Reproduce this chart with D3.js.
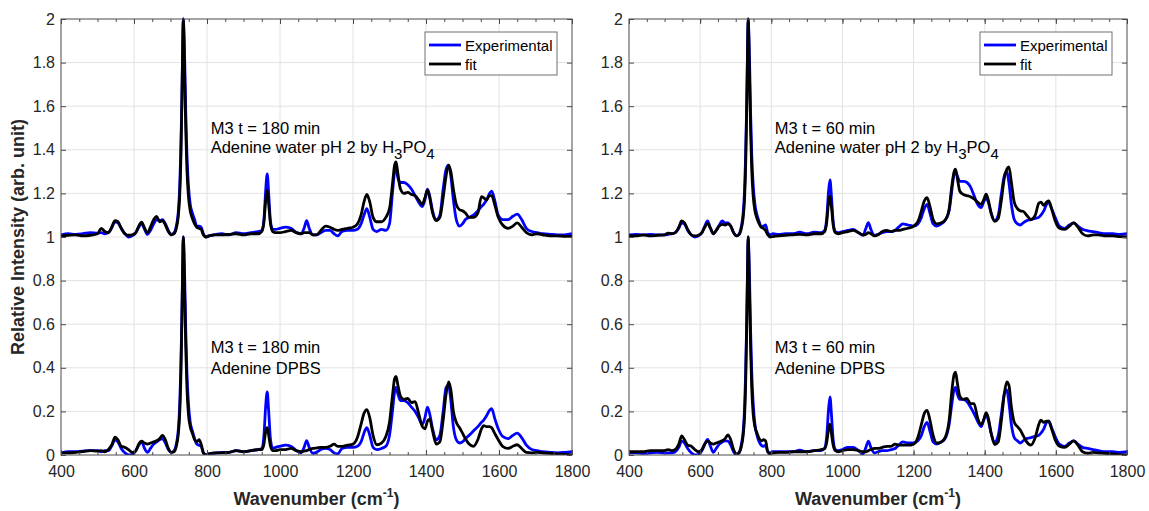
<!DOCTYPE html>
<html>
<head>
<meta charset="utf-8">
<script src="https://cdn.jsdelivr.net/npm/d3@7"></script>
<style>
  body { margin: 0; background: #fff; }
  text { font-family: "Liberation Sans", Arial, Helvetica, sans-serif; }
</style>
</head>
<body>
<svg id="chart" width="1149" height="511"></svg>
<script>
// Raman shift axis shared by every spectrum (cm^-1), denser around the sharp bands
const wavenumbers = [400,420,440,460,480,500,510,520,530,540,
  548,556,565,575,585,595,605,613,621,629,637,645,654,662,670,678,686,694,702,710,
  716,721,725,728,731,733,735,737,739,742,745,749,754,760,766,772,778,784,790,797,805,
  820,840,860,880,900,920,940,950,956,961,965,969,974,980,988,1000,1015,1030,1045,1058,1066,1073,1080,1090,1100,
  1112,1125,1137,1148,1158,1170,1185,1200,1212,1222,1230,1238,1246,1255,1265,1278,1290,1300,
  1308,1314,1318,1323,1330,1340,1350,1360,1370,1380,1390,1397,1404,1410,1418,1428,1438,1447,1455,1462,1468,1475,1483,1492,1500,
  1508,1518,1530,1542,1552,1558,1566,1574,1580,1588,1598,1610,1625,1638,1650,1662,1675,1690,1705,1720,1740,1760,1780,1800];

// Normalised intensities (735 cm^-1 band = 1)
// M3, t = 180 min, adenine in water pH 2 (H3PO4)
const water180Exp = [.010,.015,.012,.015,.020,.018,.020,.015,.020,.045,
  .070,.065,.040,.015,.000,.005,.020,.045,.060,.035,.012,.030,.060,.080,.075,.080,.060,.030,.012,.020,
  .050,.110,.220,.380,.620,.820,1.000,.930,.800,.560,.380,.240,.150,.110,.080,.050,.050,.045,.015,.000,.005,
  .010,.015,.010,.020,.015,.020,.025,.030,.080,.220,.290,.200,.070,.035,.035,.040,.045,.040,.020,.015,.040,.075,.040,.010,.010,
  .020,.030,.030,.015,.005,.025,.030,.030,.035,.060,.100,.130,.090,.035,.025,.035,.030,.060,
  .200,.300,.320,.270,.250,.250,.240,.220,.190,.160,.140,.170,.220,.190,.120,.080,.100,.220,.310,.330,.280,.170,.080,.050,.060,
  .080,.090,.100,.120,.140,.150,.170,.200,.210,.170,.100,.080,.080,.095,.105,.080,.040,.025,.020,.015,.012,.010,.010,.015];
const water180Fit = [.005,.008,.010,.005,.008,.015,.040,.025,.020,.050,
  .075,.070,.040,.015,.008,.010,.020,.050,.068,.040,.020,.045,.080,.095,.070,.075,.055,.025,.010,.015,
  .040,.090,.180,.330,.600,.830,1.000,.900,.720,.480,.310,.190,.120,.085,.060,.045,.040,.035,.010,.000,.005,
  .010,.010,.012,.015,.010,.015,.015,.025,.070,.170,.215,.150,.060,.025,.020,.020,.025,.030,.020,.015,.020,.020,.020,.010,.010,
  .030,.050,.045,.035,.030,.035,.040,.045,.060,.100,.160,.195,.160,.090,.070,.070,.090,.130,
  .240,.330,.345,.290,.220,.200,.205,.195,.190,.170,.150,.180,.215,.180,.110,.075,.090,.180,.280,.330,.300,.220,.150,.125,.120,
  .110,.090,.090,.110,.185,.180,.170,.190,.190,.150,.090,.055,.040,.050,.065,.045,.020,.010,.015,.010,.005,.005,.003,.003];
// M3, t = 180 min, adenine in DPBS
const dpbs180Exp = [.010,.015,.015,.018,.020,.020,.015,.020,.020,.045,
  .070,.060,.030,.010,.000,.002,.020,.045,.060,.030,.012,.030,.050,.060,.070,.075,.055,.025,.012,.020,
  .050,.110,.220,.380,.620,.820,1.000,.930,.800,.560,.380,.240,.150,.110,.075,.050,.045,.040,.010,.000,.005,
  .008,.012,.012,.020,.015,.020,.025,.030,.090,.230,.290,.200,.070,.030,.035,.040,.045,.040,.020,.010,.035,.066,.035,.008,.012,
  .025,.030,.025,.010,.005,.030,.035,.035,.040,.060,.100,.126,.090,.035,.025,.030,.040,.090,
  .200,.290,.310,.280,.250,.250,.240,.220,.200,.170,.140,.170,.220,.190,.120,.070,.090,.200,.310,.320,.250,.130,.070,.055,.060,
  .075,.090,.110,.130,.150,.160,.180,.205,.213,.170,.120,.085,.075,.090,.100,.080,.045,.025,.020,.015,.012,.010,.012,.015];
const dpbs180Fit = [.010,.010,.012,.015,.020,.018,.020,.015,.025,.050,
  .082,.070,.040,.035,.025,.012,.020,.050,.063,.055,.050,.055,.060,.065,.075,.090,.070,.030,.012,.015,
  .040,.090,.180,.330,.600,.830,1.000,.900,.720,.480,.310,.190,.130,.100,.070,.060,.070,.050,.010,.000,.005,
  .010,.010,.012,.020,.015,.020,.025,.025,.050,.110,.126,.090,.040,.020,.020,.025,.025,.030,.020,.015,.018,.020,.025,.030,.032,
  .035,.035,.040,.050,.040,.040,.045,.050,.080,.140,.190,.208,.170,.090,.047,.055,.085,.150,
  .270,.350,.360,.320,.270,.255,.260,.240,.245,.190,.130,.120,.155,.165,.110,.050,.060,.160,.280,.335,.300,.200,.150,.125,.100,
  .075,.050,.040,.070,.120,.135,.130,.130,.125,.100,.070,.040,.030,.040,.047,.030,.012,.010,.012,.010,.008,.005,.003,.000];
// M3, t = 60 min, adenine in water pH 2 (H3PO4)
const water60Exp = [.010,.012,.010,.012,.010,.010,.012,.015,.020,.040,
  .065,.060,.030,.010,.000,.005,.020,.050,.074,.040,.015,.030,.055,.074,.065,.065,.050,.020,.005,.015,
  .050,.110,.220,.380,.620,.820,1.000,.930,.800,.560,.380,.240,.150,.100,.070,.045,.050,.055,.020,.010,.015,
  .012,.015,.015,.022,.015,.022,.020,.030,.090,.210,.262,.190,.070,.025,.020,.025,.030,.035,.020,.008,.040,.066,.035,.008,.012,
  .020,.025,.025,.030,.045,.060,.055,.050,.060,.090,.130,.150,.110,.060,.050,.060,.080,.120,
  .220,.290,.300,.280,.255,.255,.250,.230,.190,.150,.135,.160,.180,.160,.110,.075,.100,.200,.280,.300,.250,.150,.080,.060,.055,
  .065,.075,.080,.085,.090,.100,.120,.150,.158,.130,.090,.050,.040,.055,.065,.050,.035,.028,.025,.020,.015,.015,.012,.015];
const water60Fit = [.005,.005,.010,.005,.008,.010,.018,.015,.020,.045,
  .074,.065,.035,.010,.005,.008,.020,.045,.061,.040,.015,.030,.050,.058,.055,.060,.050,.020,.005,.012,
  .040,.090,.180,.330,.600,.830,1.000,.900,.720,.480,.310,.190,.120,.085,.060,.045,.040,.030,.010,.000,.002,
  .005,.008,.010,.012,.010,.015,.015,.025,.070,.160,.189,.140,.055,.020,.015,.020,.025,.030,.020,.010,.012,.020,.015,.005,.010,
  .025,.030,.025,.030,.030,.035,.040,.050,.070,.120,.165,.181,.140,.080,.060,.065,.080,.130,
  .240,.300,.311,.270,.210,.195,.190,.185,.175,.160,.150,.170,.196,.170,.110,.072,.085,.170,.270,.310,.322,.250,.160,.130,.120,
  .118,.100,.080,.100,.155,.160,.145,.160,.166,.130,.075,.040,.035,.050,.065,.045,.015,.005,.010,.010,.005,.005,.002,.000];
// M3, t = 60 min, adenine in DPBS
const dpbs60Exp = [.010,.010,.008,.010,.012,.010,.010,.010,.015,.035,
  .064,.055,.030,.010,.000,.002,.020,.050,.072,.040,.012,.030,.050,.060,.065,.064,.045,.015,.002,.012,
  .050,.110,.220,.380,.620,.820,1.000,.930,.800,.560,.380,.240,.140,.090,.060,.045,.040,.045,.015,.010,.015,
  .015,.015,.015,.022,.015,.020,.020,.030,.090,.210,.267,.190,.070,.025,.020,.025,.035,.035,.020,.005,.035,.064,.035,.010,.015,
  .020,.020,.025,.030,.045,.060,.055,.055,.065,.090,.130,.150,.110,.060,.050,.060,.080,.140,
  .240,.300,.310,.280,.255,.255,.245,.220,.190,.155,.130,.160,.190,.160,.100,.060,.090,.190,.280,.300,.240,.140,.080,.065,.055,
  .065,.075,.080,.085,.090,.100,.120,.150,.155,.125,.085,.050,.040,.055,.065,.050,.035,.030,.025,.020,.015,.015,.012,.015];
const dpbs60Fit = [.015,.015,.015,.020,.020,.020,.025,.020,.025,.050,
  .088,.070,.045,.040,.025,.015,.025,.050,.064,.055,.050,.055,.060,.065,.075,.092,.070,.025,.005,.012,
  .040,.090,.180,.330,.600,.830,1.000,.900,.720,.480,.310,.190,.130,.100,.075,.065,.070,.065,.015,.005,.010,
  .012,.012,.015,.015,.015,.020,.025,.030,.060,.120,.142,.100,.045,.020,.015,.020,.025,.025,.020,.015,.015,.020,.025,.030,.030,
  .035,.040,.040,.050,.045,.045,.045,.050,.080,.140,.190,.205,.160,.090,.055,.060,.085,.160,
  .300,.370,.380,.330,.270,.255,.260,.235,.236,.170,.140,.160,.194,.170,.100,.048,.060,.160,.280,.335,.320,.220,.150,.130,.115,
  .090,.060,.045,.080,.140,.160,.150,.155,.155,.120,.070,.040,.035,.050,.065,.045,.015,.008,.012,.010,.008,.005,.002,.000];

const xTicks = [400, 600, 800, 1000, 1200, 1400, 1600, 1800];
const xMinorTicks = d3.range(450, 1800, 50);
const yTicks = [0, 0.2, 0.4, 0.6, 0.8, 1, 1.2, 1.4, 1.6, 1.8, 2];
const legendLabels = ["Experimental", "fit"];
const stackOffset = 1;   // upper spectrum is shifted up by one unit

const colors = { exp: "#0000ff", fit: "#000000" };
const axisColor = "#4a4a4a";
const textColor = "#262626";

const panels = [
  { left: 61, top: 19, width: 511, height: 436, yLabel: true,
    upper: { exp: water180Exp, fit: water180Fit, title: "M3 t = 180 min" },
    lower: { exp: dpbs180Exp, fit: dpbs180Fit, title: "M3 t = 180 min" } },
  { left: 629, top: 19, width: 498, height: 436, yLabel: false,
    upper: { exp: water60Exp, fit: water60Fit, title: "M3 t = 60 min" },
    lower: { exp: dpbs60Exp, fit: dpbs60Fit, title: "M3 t = 60 min" } }
];

const svg = d3.select("#chart");

panels.forEach((p, i) => {
  const g = svg.append("g").attr("transform", `translate(${p.left},${p.top})`);
  const x = d3.scaleLinear().domain([400, 1800]).range([0, p.width]);
  const y = d3.scaleLinear().domain([0, 2]).range([p.height, 0]);

  // grid
  g.append("g").selectAll("line").data(xTicks.slice(1, -1)).join("line")
    .attr("x1", d => x(d)).attr("x2", d => x(d)).attr("y1", 0).attr("y2", p.height)
    .attr("stroke", "#e2e2e2").attr("stroke-width", 1);
  g.append("g").selectAll("line").data(yTicks.slice(1, -1)).join("line")
    .attr("y1", d => y(d)).attr("y2", d => y(d)).attr("x1", 0).attr("x2", p.width)
    .attr("stroke", "#e2e2e2").attr("stroke-width", 1);

  // spectra
  const clipId = `clip${i}`;
  g.append("clipPath").attr("id", clipId).append("rect")
    .attr("x", 0).attr("y", -2).attr("width", p.width).attr("height", p.height + 2);
  const plot = g.append("g").attr("clip-path", `url(#${clipId})`);
  const series = [
    { values: p.upper.exp, offset: stackOffset, color: colors.exp },
    { values: p.upper.fit, offset: stackOffset, color: colors.fit },
    { values: p.lower.exp, offset: 0, color: colors.exp },
    { values: p.lower.fit, offset: 0, color: colors.fit }
  ];
  series.forEach(s => {
    const line = d3.line()
      .x((d, k) => x(wavenumbers[k]))
      .y(d => y(d + s.offset))
      .curve(d3.curveMonotoneX);
    plot.append("path").datum(s.values)
      .attr("d", line).attr("fill", "none")
      .attr("stroke", s.color).attr("stroke-width", 2.8)
      .attr("stroke-linejoin", "round");
  });

  // axes (ticks pointing inward, box on)
  const styleAxis = sel => {
    sel.select(".domain").remove();
    sel.selectAll("line").attr("stroke", axisColor);
    sel.selectAll("text").attr("fill", textColor).style("font-size", "16px");
  };
  g.append("g").attr("transform", `translate(0,${p.height})`)
    .call(d3.axisBottom(x).tickValues(xTicks).tickSize(-5).tickPadding(11).tickFormat(d3.format("d")))
    .call(styleAxis);
  g.append("g").attr("transform", `translate(0,${p.height})`)
    .call(d3.axisBottom(x).tickValues(xMinorTicks).tickSize(-3).tickFormat(""))
    .call(styleAxis);
  g.append("g")
    .call(d3.axisTop(x).tickValues(xTicks).tickSize(-5).tickFormat(""))
    .call(styleAxis);
  g.append("g")
    .call(d3.axisTop(x).tickValues(xMinorTicks).tickSize(-3).tickFormat(""))
    .call(styleAxis);
  g.append("g")
    .call(d3.axisLeft(y).tickValues(yTicks).tickSize(-5).tickPadding(6).tickFormat(d => String(+d.toFixed(1))))
    .call(styleAxis);
  g.append("g").attr("transform", `translate(${p.width},0)`)
    .call(d3.axisRight(y).tickValues(yTicks).tickSize(-5).tickFormat(""))
    .call(styleAxis);
  g.append("rect").attr("width", p.width).attr("height", p.height)
    .attr("fill", "none").attr("stroke", axisColor).attr("stroke-width", 1);

  // annotations
  const ann = g.append("g").attr("fill", "#000").style("font-size", "16.5px");
  ann.append("text").attr("x", x(810)).attr("y", y(1.472)).text(p.upper.title);
  const t2 = ann.append("text").attr("x", x(810)).attr("y", y(1.385));
  t2.append("tspan").text("Adenine water pH 2 by H");
  t2.append("tspan").attr("dy", 6).style("font-size", "15px").text("3");
  t2.append("tspan").attr("dy", -6).text("PO");
  t2.append("tspan").attr("dy", 6).style("font-size", "15px").text("4");
  ann.append("text").attr("x", x(810)).attr("y", y(0.468)).text(p.lower.title);
  ann.append("text").attr("x", x(810)).attr("y", y(0.372)).text("Adenine DPBS");

  // legend
  const lg = g.append("g").attr("transform", `translate(${p.width - 147},13)`);
  lg.append("rect").attr("width", 132).attr("height", 43)
    .attr("fill", "#fff").attr("stroke", "#707070").attr("stroke-width", 1);
  [colors.exp, colors.fit].forEach((c, k) => {
    const yy = 13 + k * 19;
    lg.append("line").attr("x1", 4).attr("x2", 36).attr("y1", yy).attr("y2", yy)
      .attr("stroke", c).attr("stroke-width", 2.8);
    lg.append("text").attr("x", 40).attr("y", yy + 5.5)
      .style("font-size", "15px").attr("fill", "#000").text(legendLabels[k]);
  });

  // x label
  const xl = svg.append("text")
    .attr("x", p.left + p.width / 2).attr("y", 505)
    .attr("text-anchor", "middle").attr("fill", textColor)
    .style("font-size", "18px").style("font-weight", "bold");
  xl.append("tspan").text("Wavenumber (cm");
  xl.append("tspan").attr("dy", -8).style("font-size", "12px").text("-1");
  xl.append("tspan").attr("dy", 8).text(")");

  if (p.yLabel) {
    svg.append("text")
      .attr("transform", `translate(24,${p.top + p.height / 2}) rotate(-90)`)
      .attr("text-anchor", "middle").attr("fill", textColor)
      .style("font-size", "18px").style("font-weight", "bold")
      .text("Relative Intensity (arb. unit)");
  }
});
</script>
</body>
</html>
